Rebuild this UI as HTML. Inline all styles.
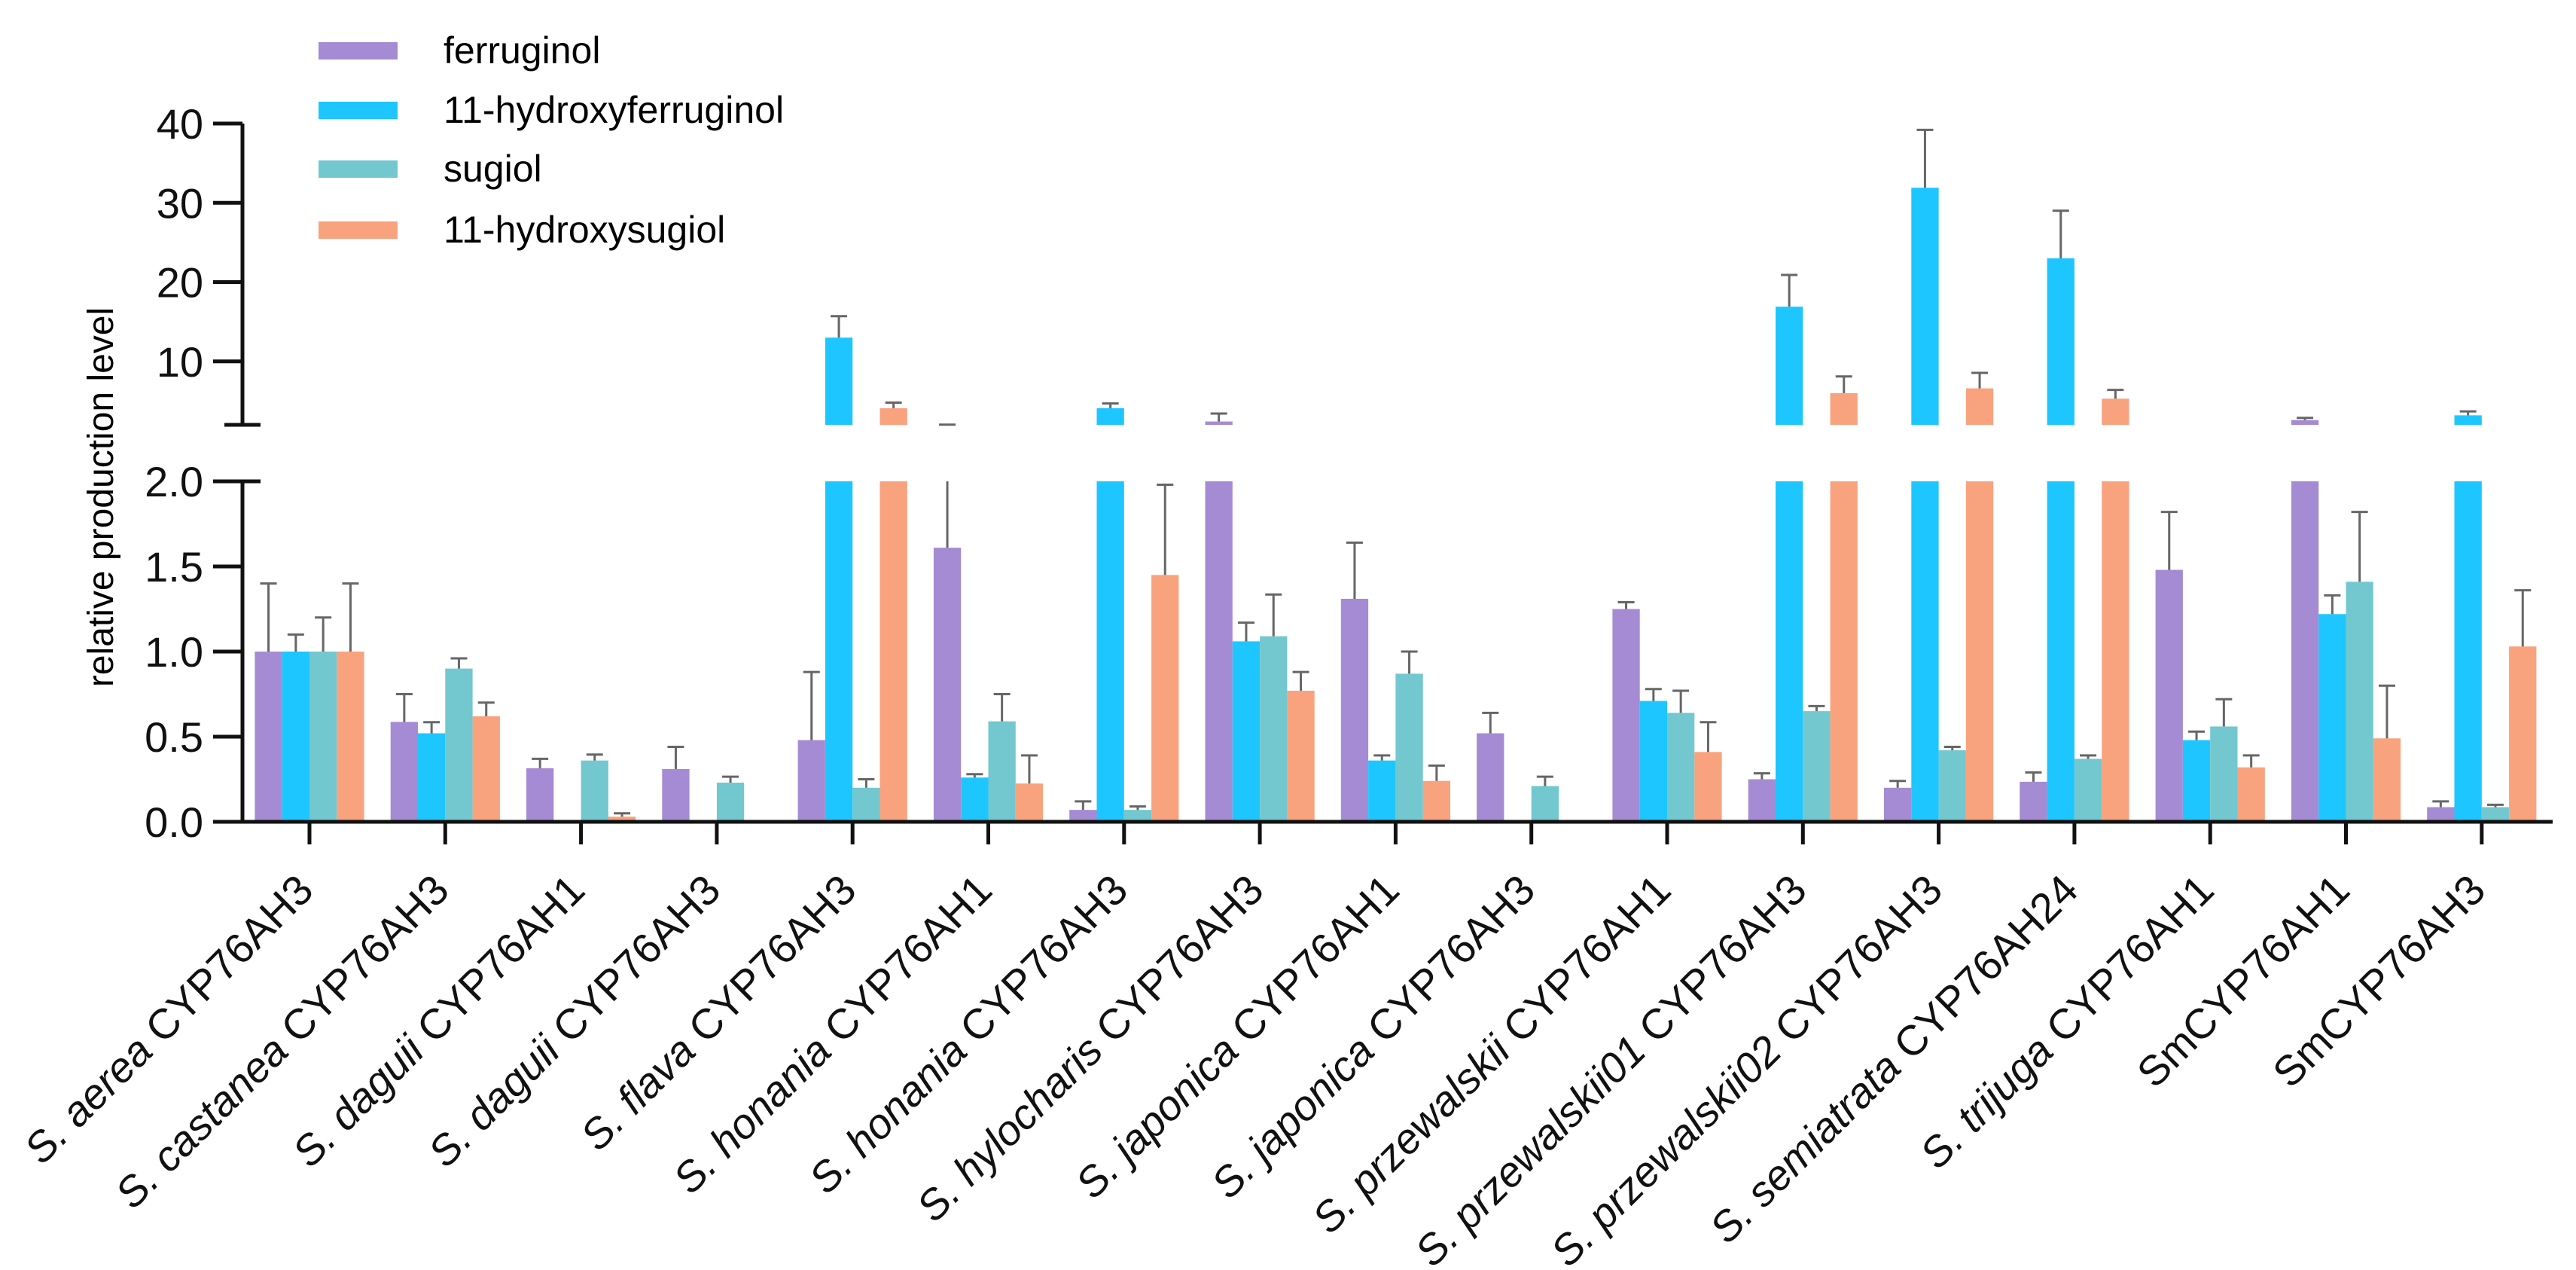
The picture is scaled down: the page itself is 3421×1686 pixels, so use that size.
<!DOCTYPE html>
<html><head><meta charset="utf-8"><style>
html,body{margin:0;padding:0;background:#fff;}
svg{display:block;font-family:"Liberation Sans",Arial,sans-serif;}
</style></head><body>
<svg id="chart" width="3421" height="1686" viewBox="0 0 3421 1686" xmlns="http://www.w3.org/2000/svg">
<g id="legend">
  <g><rect x="423" y="56" width="105" height="23" fill="#A58BD3"/><text x="589" y="84" font-size="50">ferruginol</text></g>
  <g><rect x="423" y="135" width="105" height="23" fill="#1EC6FF"/><text x="589" y="163" font-size="50">11-hydroxyferruginol</text></g>
  <g><rect x="423" y="213" width="105" height="23" fill="#72C8CE"/><text x="589" y="241" font-size="50">sugiol</text></g>
  <g><rect x="423" y="294" width="105" height="23" fill="#F9A27E"/><text x="589" y="322" font-size="50">11-hydroxysugiol</text></g>
</g>
<text transform="translate(150,660) rotate(-90)" text-anchor="middle" font-size="48">relative production level</text>
<g id="bars"></g>
<g id="axes"></g>
</svg>
<script>
const categories = ["S. aerea CYP76AH3","S. castanea CYP76AH3","S. daguii CYP76AH1","S. daguii CYP76AH3","S. flava CYP76AH3","S. honania CYP76AH1","S. honania CYP76AH3","S. hylocharis CYP76AH3","S. japonica CYP76AH1","S. japonica CYP76AH3","S. przewalskii CYP76AH1","S. przewalskii01 CYP76AH3","S. przewalskii02 CYP76AH3","S. semiatrata CYP76AH24","S. trijuga CYP76AH1","SmCYP76AH1","SmCYP76AH3"];
const seriesNames = ["ferruginol","11-hydroxyferruginol","sugiol","11-hydroxysugiol"];
const ferruginol = [1.0,0.587,0.315,0.31,0.48,1.61,0.07,2.42,1.31,0.52,1.25,0.25,0.20,0.235,1.48,2.6,0.086];
const ferruginolErr = [0.40,0.163,0.055,0.13,0.40,0.41,0.05,1.0,0.33,0.12,0.04,0.035,0.04,0.055,0.34,0.28,0.034];
const hydroxyferruginol = [1.0,0.52,0,0,13.0,0.26,4.1,1.06,0.36,0,0.71,16.9,31.9,23.0,0.48,1.22,3.2];
const hydroxyferruginolErr = [0.10,0.065,0,0,2.7,0.02,0.6,0.11,0.03,0,0.07,4.0,7.3,6.0,0.05,0.11,0.5];
const sugiol = [1.0,0.90,0.36,0.23,0.20,0.59,0.07,1.09,0.87,0.21,0.64,0.65,0.42,0.37,0.56,1.41,0.086];
const sugiolErr = [0.20,0.06,0.035,0.035,0.05,0.16,0.02,0.245,0.13,0.055,0.13,0.03,0.02,0.02,0.16,0.41,0.014];
const hydroxysugiol = [1.0,0.62,0.03,0,4.1,0.225,1.45,0.77,0.24,0,0.41,6.0,6.6,5.3,0.32,0.49,1.03];
const hydroxysugiolErr = [0.40,0.08,0.02,0,0.7,0.165,0.53,0.11,0.09,0,0.175,2.1,1.95,1.1,0.07,0.31,0.33];
const lowerTicks = ["0.0","0.5","1.0","1.5","2.0"];
const upperTicks = ["10","20","30","40"];

const colors = ["#A58BD3","#1EC6FF","#72C8CE","#F9A27E"];
const values = [ferruginol,hydroxyferruginol,sugiol,hydroxysugiol];
const errs = [ferruginolErr,hydroxyferruginolErr,sugiolErr,hydroxysugiolErr];
const NS="http://www.w3.org/2000/svg";
const LOW0=1091, LOW2=639, UPB=564, UPT=164, BREAK=2, UMAX=40;
function yLow(v){return LOW0-(Math.min(v,BREAK)/BREAK)*(LOW0-LOW2);}
function yUp(v){return UPB-(v-BREAK)/(UMAX-BREAK)*(UPB-UPT);}
function xCenter(i){return 411+i*180.3;}
const barW=36.3;
function mk(tag,attrs,parent){const e=document.createElementNS(NS,tag);for(const k in attrs)e.setAttribute(k,attrs[k]);parent.appendChild(e);return e;}
const bars=document.getElementById('bars'), axes=document.getElementById('axes');
categories.forEach((c,i)=>{
  for(let s=0;s<4;s++){
    const v=values[s][i], e=errs[s][i];
    if(v<=0) continue;
    const x=xCenter(i)-2*barW+s*barW;
    const r=mk('rect',{x:x,y:yLow(v),width:barW,height:LOW0-yLow(v),fill:colors[s]},bars);
    
    
    if(v>BREAK){
      const r2=mk('rect',{x:x,y:yUp(v),width:barW,height:UPB-yUp(v),fill:colors[s]},bars);
      
      
    }
    const top=v+e, cx=x+barW/2;
    const g=mk('g',{stroke:'#666','stroke-width':3},bars);
    
    
    if(v<=BREAK){
      const yt = top<=BREAK? yLow(top): LOW2;
      mk('line',{x1:cx,x2:cx,y1:yLow(v),y2:yt},g);
      if(top<=BREAK) mk('line',{x1:cx-11,x2:cx+11,y1:yt,y2:yt},g);
      else {mk('line',{x1:cx,x2:cx,y1:UPB,y2:yUp(top)},g);mk('line',{x1:cx-11,x2:cx+11,y1:yUp(top),y2:yUp(top)},g);}
    } else {
      mk('line',{x1:cx,x2:cx,y1:yUp(v),y2:yUp(top)},g);
      mk('line',{x1:cx-11,x2:cx+11,y1:yUp(top),y2:yUp(top)},g);
    }
  }
  const tk=mk('line',{x1:xCenter(i),x2:xCenter(i),y1:LOW0,y2:LOW0+30,stroke:'#111','stroke-width':5},axes);
  
  
  const t=mk('text',{transform:'translate('+(xCenter(i)+8)+',1185) rotate(-45)','text-anchor':'end','font-size':56,fill:'#111'},axes);
  
  
  if(c.startsWith('S. ')){
    const sp=c.lastIndexOf(' ');
    const a=mk('tspan',{'font-style':'italic'},t); a.textContent=c.slice(0,sp);
    const b=mk('tspan',{},t); b.textContent=c.slice(sp);
  } else t.textContent=c;
});
const ax=(a)=>mk('line',Object.assign({stroke:'#111','stroke-width':5},a),axes);
let l;
l=ax({x1:322,x2:322,y1:UPT,y2:UPB});  
l=ax({x1:298,x2:346,y1:UPB,y2:UPB});  
l=ax({x1:322,x2:322,y1:LOW2,y2:LOW0});  
l=ax({x1:298,x2:346,y1:LOW2,y2:LOW2});  
l=ax({x1:283,x2:3390,y1:LOW0,y2:LOW0});  
lowerTicks.forEach((s)=>{const v=parseFloat(s),y=yLow(v);
  const tl=ax({x1:283,x2:322,y1:y,y2:y});  
  const t=mk('text',{x:270,y:y+20,'text-anchor':'end','font-size':56,fill:'#111'},axes); t.textContent=s;
   });
upperTicks.forEach((s)=>{const v=parseFloat(s),y=yUp(v);
  const tl=ax({x1:283,x2:322,y1:y,y2:y});  
  const t=mk('text',{x:270,y:y+20,'text-anchor':'end','font-size':56,fill:'#111'},axes); t.textContent=s;
   });
</script>
</body></html>
